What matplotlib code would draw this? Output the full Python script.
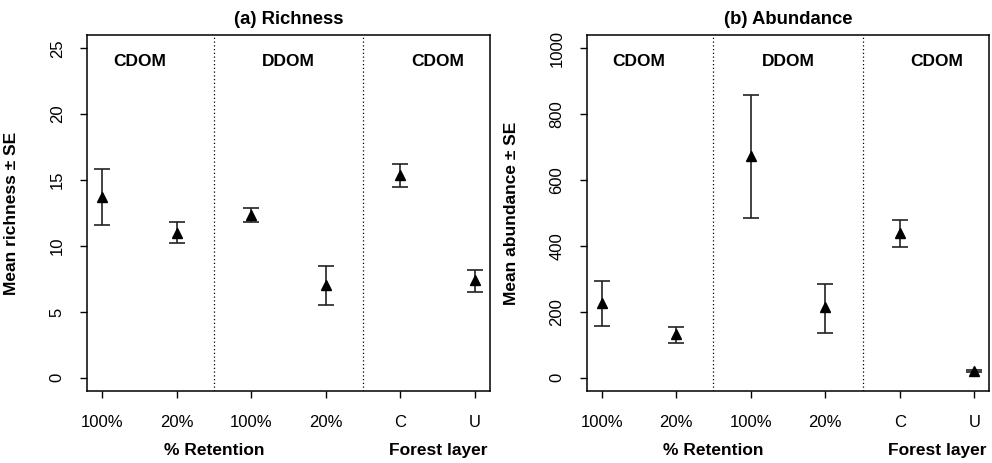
import matplotlib
matplotlib.use("Agg")
import matplotlib.pyplot as plt
import matplotlib.transforms as mtransforms

plt.rcParams['font.family'] = ['Liberation Sans', 'DejaVu Sans']

tick_labels = ["100%", "20%", "100%", "20%", "C", "U"]
group_labels = ["CDOM", "DDOM", "CDOM"]
xlabels = ["% Retention", "Forest layer"]

richness_mean = [13.7, 11.0, 12.35, 7.05, 15.35, 7.4]
richness_lo = [11.6, 10.2, 11.8, 5.5, 14.45, 6.5]
richness_hi = [15.8, 11.8, 12.85, 8.45, 16.2, 8.15]

abund_mean = [228, 133, 672, 214, 439, 21]
abund_lo = [158, 106, 485, 135, 396, 17]
abund_hi = [293, 154, 857, 285, 478, 25]

panels = [
    dict(title="(a) Richness", ylabel="Mean richness \u00b1 SE",
         mean=richness_mean, lo=richness_lo, hi=richness_hi,
         yticks=[0, 5, 10, 15, 20, 25], ylim=(-1, 26), ytext=24),
    dict(title="(b) Abundance", ylabel="Mean abundance \u00b1 SE",
         mean=abund_mean, lo=abund_lo, hi=abund_hi,
         yticks=[0, 200, 400, 600, 800, 1000], ylim=(-40, 1040), ytext=960),
]

fig = plt.figure(figsize=(9.92, 4.63), dpi=100)
rects = [[0.0877, 0.1555, 0.4063, 0.7689], [0.5914, 0.1555, 0.4059, 0.7689]]

for rect, p in zip(rects, panels):
    ax = fig.add_axes(rect)
    x = list(range(1, 7))
    yerr = [[m - l for m, l in zip(p["mean"], p["lo"])],
            [h - m for m, h in zip(p["mean"], p["hi"])]]
    ax.errorbar(x, p["mean"], yerr=yerr, fmt='none', ecolor='#222222',
                elinewidth=1.2, capsize=6, capthick=1.2, zorder=2)
    ax.plot(x, p["mean"], linestyle='none', marker='^', color='black',
            markersize=7.5, zorder=3)
    for xv in [2.5, 4.5]:
        ax.axvline(xv, color='black', linewidth=0.9, linestyle=(0, (1, 2)), zorder=1)
    for xv, lab in zip([1.5, 3.5, 5.5], group_labels):
        ax.text(xv, p["ytext"], lab, ha='center', va='center',
                fontsize=12.5, fontweight='bold')
    ax.set_xlim(0.8, 6.2)
    ax.set_ylim(*p["ylim"])
    ax.set_xticks(x)
    ax.set_xticklabels(tick_labels, fontsize=12)
    ax.set_yticks(p["yticks"])
    ax.set_yticklabels([str(t) for t in p["yticks"]], fontsize=12,
                       rotation=90, va='center')
    ax.tick_params(axis='x', length=5, width=1, pad=12)
    ax.tick_params(axis='y', length=5, width=1, pad=11)
    for s in ax.spines.values():
        s.set_linewidth(1.1)
    ax.set_title(p["title"], fontsize=13.3, fontweight='bold', pad=8)
    ax.set_ylabel(p["ylabel"], fontsize=12.5, fontweight='bold')
    ax.yaxis.set_label_coords(-0.168, 0.5)
    trans = mtransforms.blended_transform_factory(ax.transData, ax.transAxes)
    for xv, lab in zip([2.5, 5.5], xlabels):
        ax.text(xv, -0.166, lab, transform=trans, ha='center', va='center',
                fontsize=12.5, fontweight='bold')

fig.savefig("out.png", dpi=100)
